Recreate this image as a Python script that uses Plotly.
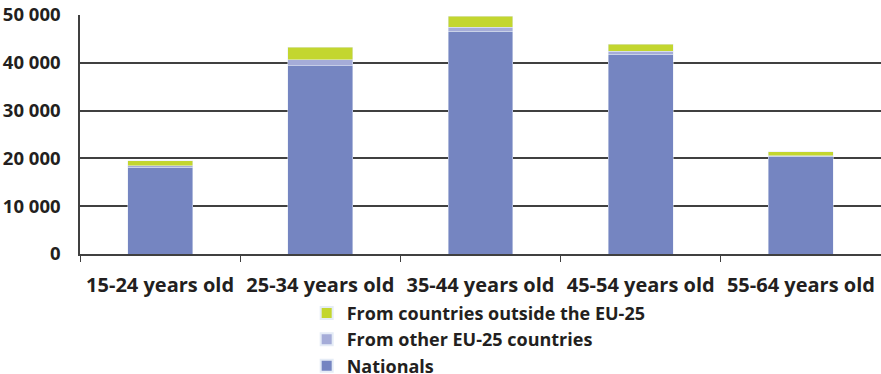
import plotly.graph_objects as go

categories = ["15-24 years old", "25-34 years old", "35-44 years old", "45-54 years old", "55-64 years old"]
nationals = [18100, 39400, 46600, 41800, 20400]
other_eu = [350, 1200, 850, 650, 200]
outside_eu = [1050, 2700, 2300, 1450, 800]
y_ticks = [0, 10000, 20000, 30000, 40000, 50000]

FONT = "Open Sans"

fig = go.Figure()
fig.add_trace(go.Bar(x=categories, y=nationals, name="<b>Nationals</b>", marker_color="#7585C1"))
fig.add_trace(go.Bar(x=categories, y=other_eu, name="<b>From other EU-25 countries</b>", marker_color="#A5ACD8"))
fig.add_trace(go.Bar(x=categories, y=outside_eu, name="<b>From countries outside the EU-25</b>", marker_color="#C3D62F"))

fig.update_layout(
    width=881, height=374,
    margin=dict(l=80, r=0, t=15, b=120, autoexpand=False),
    barmode="stack",
    bargap=0.595,
    plot_bgcolor="white",
    paper_bgcolor="white",
    separators=". ",
    font=dict(family=FONT, size=18.5, color="#231F20"),
    legend=dict(
        x=0.283, y=0.212, xanchor="left", yanchor="top",
        yref="container",
        traceorder="reversed",
        font=dict(family=FONT, size=18, color="#231F20"),
        itemsizing="constant",
        tracegroupgap=0,
        bgcolor="rgba(0,0,0,0)",
    ),
    showlegend=True,
)
fig.update_xaxes(
    showline=True, linecolor="#404040", linewidth=1.5,
    ticks="outside", tickson="boundaries", ticklen=6, tickcolor="#404040",
    tickfont=dict(family=FONT, size=20, color="#231F20", weight="bold"),
    showgrid=False, automargin=False, ticklabelstandoff=12,
)
fig.update_yaxes(
    range=[0, 50000], tickvals=y_ticks, tickformat=",d",
    showline=True, linecolor="#404040", linewidth=1.5,
    showgrid=True, gridcolor="#404040", gridwidth=1.5,
    zeroline=False, automargin=False,
    tickfont=dict(family=FONT, size=18.5, color="#231F20", weight="bold"),
    ticks="", ticklabelstandoff=14,
)

fig.write_html("out.html")
